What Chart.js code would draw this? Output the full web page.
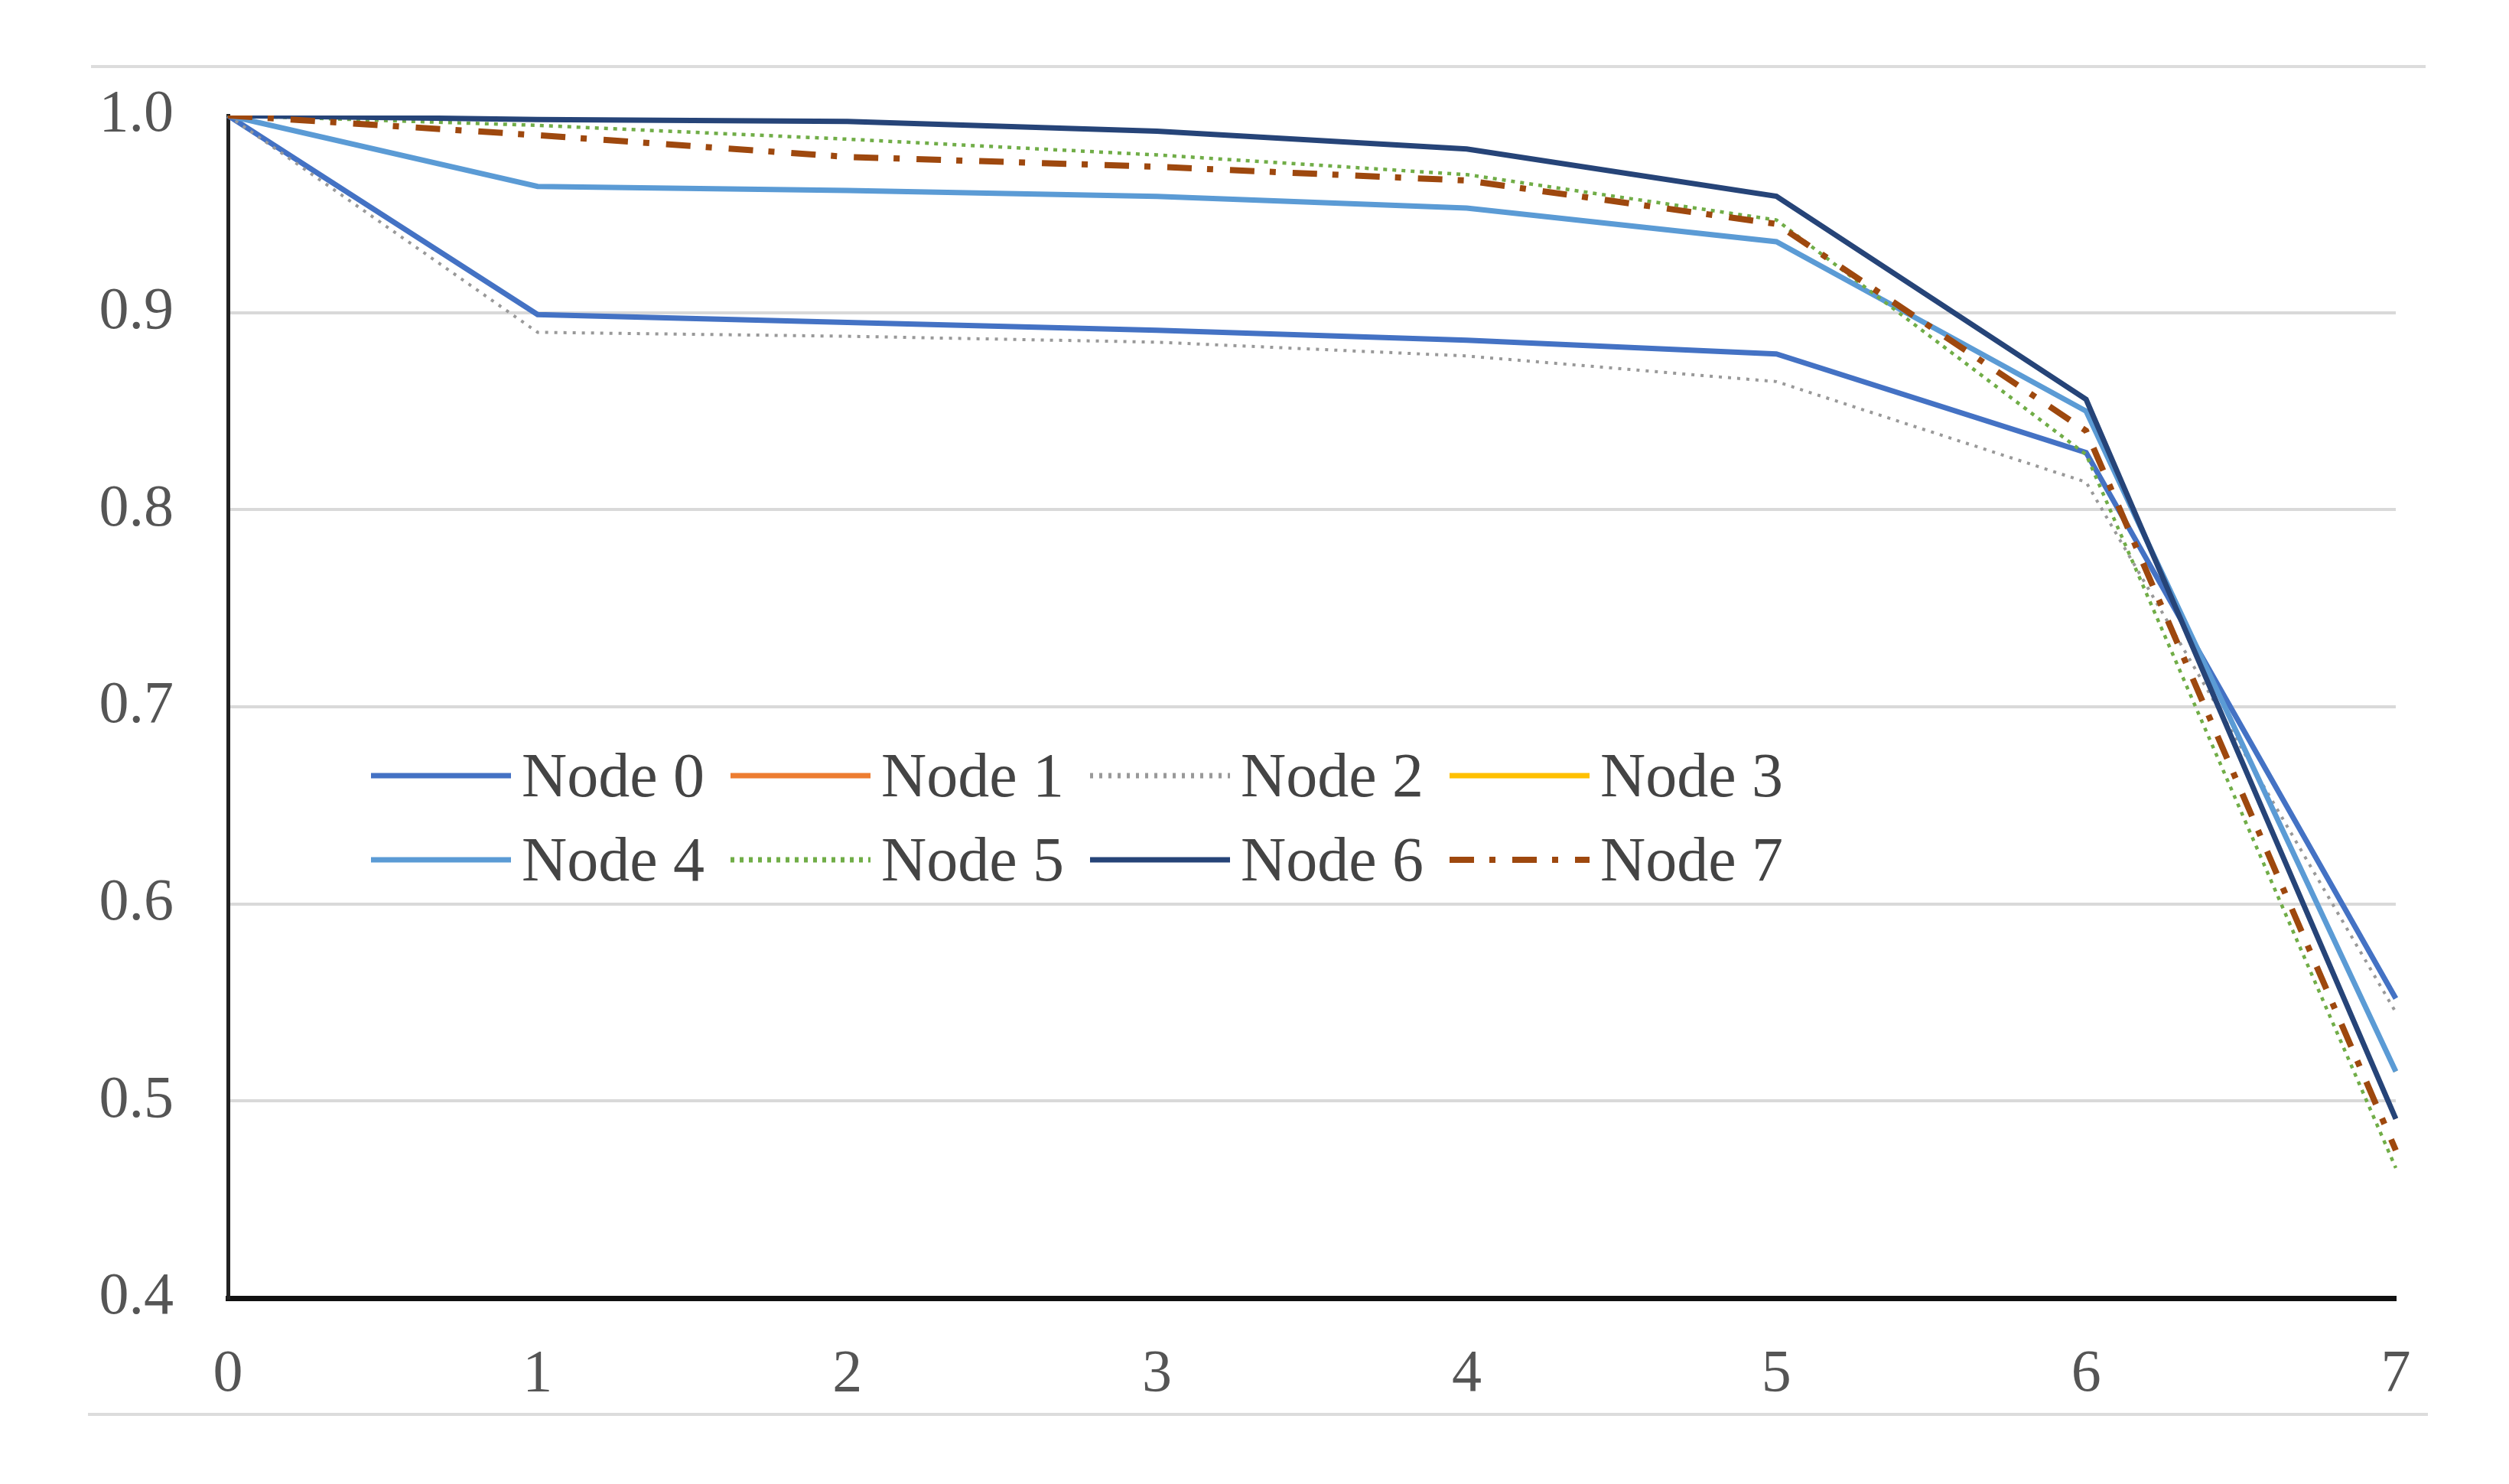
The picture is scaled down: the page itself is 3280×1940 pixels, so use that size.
<!DOCTYPE html>
<html lang="en">
<head>
<meta charset="UTF-8">
<title>Node curves</title>
<script src="https://cdn.jsdelivr.net/npm/chart.js"></script>
<style>
  html, body { margin: 0; padding: 0; background: #fff; overflow: hidden; }
  #wrap { position: relative; width: 3280px; height: 1940px; }
  .rule { position: absolute; height: 4px; background: #dcdcdc; }
  #legend { position: absolute; left: 485px; top: 973px; display: grid;
            grid-template-columns: repeat(4, 470px); row-gap: 28px;
            font-family: "Liberation Serif", serif; font-size: 82px; color: #444; }
  .item { display: flex; align-items: center; height: 82px; }
  .item svg { flex: none; }
  .item span { margin-left: 14px; line-height: 1; }
</style>
</head>
<body>
<div id="wrap">
  <div class="rule" style="left:119px; width:3052px; top:85px;"></div>
  <div class="rule" style="left:115px; width:3059px; top:1847px;"></div>
  <canvas id="chart" width="3280" height="1940"></canvas>
  <div id="legend"></div>
</div>

<script>
const steps = ['0', '1', '2', '3', '4', '5', '6', '7'];
const yTicks = [0.4, 0.5, 0.6, 0.7, 0.8, 0.9, 1.0];

const node0 = [1.000, 0.899, 0.895, 0.891, 0.886, 0.879, 0.829, 0.552];
const node1 = [1.000, 0.998, 0.997, 0.992, 0.983, 0.959, 0.856, 0.491];
const node2 = [1.000, 0.890, 0.888, 0.885, 0.878, 0.865, 0.814, 0.545];
const node3 = [1.000, 0.964, 0.962, 0.959, 0.953, 0.936, 0.850, 0.515];
const node4 = [1.000, 0.964, 0.962, 0.959, 0.953, 0.936, 0.850, 0.515];
const node5 = [1.000, 0.995, 0.988, 0.980, 0.970, 0.947, 0.828, 0.466];
const node6 = [1.000, 0.998, 0.997, 0.992, 0.983, 0.959, 0.856, 0.491];
const node7 = [1.000, 0.990, 0.979, 0.974, 0.967, 0.945, 0.840, 0.475];

const names = ['Node 0', 'Node 1', 'Node 2', 'Node 3', 'Node 4', 'Node 5', 'Node 6', 'Node 7'];
const series = [node0, node1, node2, node3, node4, node5, node6, node7];
const colors = ['#4472C4', '#ED7D31', '#999999', '#FFC000', '#5B9BD5', '#70AD47', '#264478', '#9E480E'];
const widths = [7, 5, 4, 5, 7, 4.5, 7, 8];
const dashes = [[], [], [4, 8], [], [], [5, 7], [], [32, 20, 8, 22]];
// Node 1 and Node 3 lie underneath other curves, like in the original

const datasets = series.map((vals, i) => ({
    label: names[i],
    data: vals,
    borderColor: colors[i],
    borderWidth: widths[i],
    borderDash: dashes[i],
    pointRadius: 0,
    tension: 0,
    fill: false,
    order: 7 - i          // later nodes painted on top
}));

const tickFont = { family: 'Liberation Serif', size: 78 };

new Chart(document.getElementById('chart').getContext('2d'), {
    type: 'line',
    data: { labels: steps, datasets: datasets },
    options: {
        responsive: false,
        animation: false,
        devicePixelRatio: 1,
        layout: { padding: { top: 151, right: 148, left: 0, bottom: 0 } },
        plugins: { legend: { display: false }, tooltip: { enabled: false } },
        scales: {
            x: {
                grid: { display: false },
                border: { color: '#111', width: 7 },
                ticks: { font: tickFont, color: '#555', padding: 46, maxRotation: 0 },
                afterFit: s => { s.height = 243; }
            },
            y: {
                min: 0.4, max: 1.0,
                afterBuildTicks: s => { s.ticks = yTicks.map(v => ({ value: v })); },
                grid: {
                    color: c => (c.tick && c.tick.value > 0.99) ? 'rgba(0,0,0,0)' : '#d9d9d9',
                    lineWidth: 4,
                    drawTicks: false
                },
                border: { color: '#222', width: 5 },
                ticks: { font: tickFont, color: '#555', padding: 71, callback: v => Number(v).toFixed(1) },
                afterFit: s => { s.width = 298; }
            }
        }
    }
});

// legend, 4 per row inside the plot
const legend = document.getElementById('legend');
names.forEach((name, i) => {
    const item = document.createElement('div');
    item.className = 'item';
    const dash = dashes[i].length ? `stroke-dasharray="${dashes[i].join(' ')}"` : '';
    item.innerHTML =
        `<svg width="183" height="20"><line x1="0" y1="10" x2="183" y2="10" stroke="${colors[i]}" stroke-width="${Math.max(widths[i], 7)}" ${dash}/></svg>` +
        `<span>${name}</span>`;
    legend.appendChild(item);
});
</script>
</body>
</html>
